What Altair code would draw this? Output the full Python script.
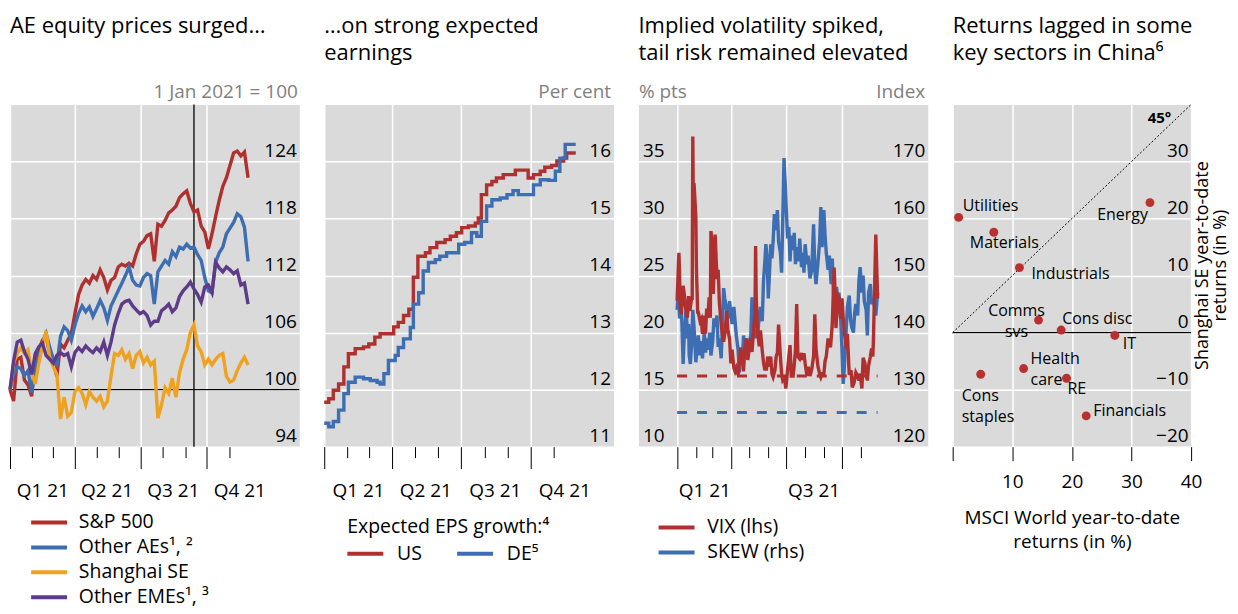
import altair as alt
import pandas as pd

FONT = "Open Sans"
RED = "#b0302f"
BLUE = "#3d6db2"
YELLOW = "#eea21f"
PURPLE = "#5d3b89"
BG = "#dadada"
SUB = "#7f7f7f"
LW = 3.4

START = pd.Timestamp("2021-01-01")


def dates(days):
    return [(START + pd.Timedelta(days=int(d))).strftime("%Y-%m-%d") for d in days]


def dt(y, m, d):
    return alt.DateTime(year=y, month=m, date=d, utc=True)


# ---------------- Panel 1: equity prices (1 Jan 2021 = 100), every 5 days
p1_series = ["S&P 500", "Other AEs¹, ²", "Shanghai SE", "Other EMEs¹, ³"]
p1_days = list(range(0, 331, 5))
sp500 = [100, 98.8, 103.2, 103.4, 101.0, 100.5, 99.3, 103.0, 104.2, 105.2,
         105.6, 103.8, 102.9, 101.4, 104.8, 104.4, 105.2, 105.9, 108.0, 110.0,
         111.0, 111.6, 111.2, 112.0, 111.6, 112.6, 111.8, 110.5, 111.5, 111.8,
         112.9, 113.2, 113.0, 113.3, 113.0, 114.3, 115.3, 115.6, 116.2, 116.4,
         113.5, 117.4, 117.2, 117.8, 118.6, 118.9, 119.3, 120.2, 120.6, 120.9,
         119.6, 118.7, 118.9, 117.2, 116.6, 114.8, 116.4, 118.2, 119.9, 121.4,
         122.3, 123.6, 124.9, 125.1, 124.6, 125.0, 122.3]
other_aes = [100, 101.6, 102.4, 102.2, 101.5, 102.0, 99.7, 102.3, 103.4, 105.0,
             105.9, 104.5, 103.2, 102.6, 105.6, 106.6, 106.2, 105.2, 106.8, 108.0,
             108.8, 108.2, 108.7, 107.7, 108.5, 109.4, 108.6, 107.3, 108.8, 109.6,
             110.4, 111.2, 112.0, 112.9, 111.5, 111.0, 110.9, 111.8, 112.2, 112.0,
             109.0, 112.4, 113.0, 113.6, 113.2, 114.5, 114.0, 115.0, 114.8, 115.3,
             114.9, 115.0, 114.2, 113.6, 111.8, 110.4, 110.2, 113.4, 114.4, 115.0,
             116.4, 117.0, 117.6, 118.5, 118.2, 117.1, 113.5]
shanghai = [100, 102.8, 103.8, 104.4, 103.8, 104.2, 101.8, 100.6, 102.8, 104.6,
            106.2, 103.4, 102.4, 101.6, 96.9, 99.2, 97.2, 97.6, 99.8, 100.2,
            99.6, 98.4, 99.8, 99.2, 98.8, 99.3, 98.2, 98.8, 101.4, 103.8,
            103.6, 104.2, 103.2, 103.8, 102.2, 103.6, 104.0, 102.8, 103.4, 102.6,
            103.0, 97.0, 98.4, 100.2, 99.6, 101.2, 99.2, 101.8, 103.2, 104.2,
            106.0, 106.8, 104.6, 104.0, 102.6, 103.2, 102.6, 103.2, 103.6, 103.8,
            101.4, 100.8, 101.0, 102.0, 102.8, 103.4, 102.6]
other_emes = [100, 103.0, 105.0, 105.2, 104.0, 103.2, 101.6, 103.8, 104.5, 104.9,
              103.6, 103.2, 102.8, 103.6, 103.9, 103.6, 103.8, 102.4, 103.9, 104.4,
              104.0, 104.6, 104.2, 103.9, 104.4, 104.0, 105.0, 103.6, 105.0, 106.8,
              108.0, 109.0, 109.3, 109.4, 108.8, 108.4, 108.0, 108.2, 107.8, 106.8,
              107.2, 107.2, 108.3, 108.6, 109.0, 108.2, 108.6, 109.8, 110.4, 110.8,
              111.3, 110.6, 110.0, 109.2, 110.8, 111.0, 110.2, 113.4, 112.8, 112.4,
              112.9, 112.6, 112.2, 112.5, 111.0, 111.2, 109.0]
p1_marker = ["2021-09-13"]
p1_base = [100]
p1_ticks = [94, 100, 106, 112, 118, 124]

# ---------------- Panel 2: expected EPS growth (per cent), step series
us_days = [0, 6, 12, 19, 26, 32, 41, 52, 59, 67, 74, 92, 98, 105, 112, 118, 124, 134,
           140, 149, 160, 167, 175, 182, 191, 200, 204, 208, 215, 222, 228, 237, 253,
           270, 277, 286, 292, 301, 308, 317, 321, 333]
us_vals = [11.78, 11.84, 11.99, 12.10, 12.40, 12.63, 12.72, 12.75, 12.80, 12.92,
           12.98, 13.10, 13.18, 13.30, 13.41, 13.97, 14.34, 14.40, 14.49, 14.58,
           14.63, 14.69, 14.75, 14.84, 14.87, 14.92, 15.01, 15.42, 15.59, 15.65,
           15.71, 15.77, 15.85, 15.71, 15.77, 15.83, 15.90, 15.93, 16.01, 16.06,
           16.15, 16.15]
de_days = [0, 6, 12, 19, 26, 32, 41, 52, 61, 70, 74, 79, 85, 94, 98, 105, 114, 118,
           125, 131, 138, 147, 153, 162, 178, 186, 195, 202, 208, 215, 222, 233, 242,
           250, 257, 277, 286, 297, 306, 312, 319, 333]
de_vals = [11.41, 11.35, 11.44, 11.64, 11.93, 12.13, 12.22, 12.19, 12.16, 12.13,
           12.10, 12.28, 12.51, 12.60, 12.74, 12.89, 13.09, 13.50, 13.70, 14.08,
           14.23, 14.28, 14.34, 14.40, 14.55, 14.58, 14.75, 14.69, 14.95, 15.22,
           15.33, 15.36, 15.42, 15.49, 15.42, 15.59, 15.68, 15.67, 15.83, 16.06,
           16.30, 16.30]
p2_series = ["US", "DE⁵"]
p2_ticks = [11, 12, 13, 14, 15, 16]

# ---------------- Panel 3: VIX (lhs) and SKEW (rhs)
vix_days = [0, 3, 4, 5, 7, 10, 12, 14, 17, 19, 21, 24, 25, 26, 27, 28, 31, 32, 34, 35,
            38, 40, 42, 45, 47, 49, 51, 53, 55, 56, 58, 60, 62, 63, 66, 68, 70, 73, 75, 77,
            80, 82, 84, 87, 89, 91, 94, 96, 98, 101, 103, 105, 108, 110, 112, 115, 117, 119,
            122, 124, 126, 129, 130, 131, 133, 136, 138, 141, 143, 145, 148, 150, 152, 155,
            157, 159, 162, 164, 166, 168, 171, 173, 175, 178, 180, 182, 185, 187, 189, 192,
            194, 196, 198, 200, 203, 206, 208, 210, 212, 215, 217, 220, 223, 226, 228, 230,
            233, 236, 238, 240, 243, 245, 247, 250, 254, 257, 260, 261, 263, 266, 268, 271,
            273, 275, 277, 280, 282, 285, 288, 290, 293, 296, 298, 301, 303, 306, 308, 311,
            313, 315, 317, 320, 322, 324, 325, 329, 332]
vix_vals = [22.8, 27.0, 25.3, 22.4, 21.6, 24.1, 23.3, 22.2, 21.3, 23.2, 21.9, 23.0, 23.0,
            37.2, 30.2, 33.1, 30.2, 25.6, 21.8, 21.8, 21.0, 21.2, 19.9, 21.5, 19.9, 22.1,
            21.3, 23.1, 21.3, 28.9, 27.9, 23.4, 26.7, 28.6, 24.7, 25.5, 22.6, 20.7, 19.8,
            19.2, 20.3, 21.9, 20.3, 19.4, 17.3, 18.5, 16.9, 16.6, 16.9, 16.3, 17.3, 18.7,
            17.6, 16.6, 18.6, 19.5, 17.6, 18.4, 19.5, 18.3, 19.7, 21.8, 27.6, 23.1, 20.2,
            18.8, 20.2, 18.4, 17.4, 16.8, 16.8, 17.9, 17.0, 17.9, 16.4, 16.1, 16.7, 17.9,
            18.2, 20.7, 17.9, 16.4, 15.8, 16.0, 15.1, 16.2, 17.9, 18.9, 16.2, 16.2, 17.2,
            18.5, 22.5, 17.9, 17.7, 18.2, 17.6, 18.2, 17.3, 16.2, 17.0, 16.2, 16.8, 17.9,
            21.6, 18.6, 17.1, 16.4, 16.1, 16.4, 16.4, 17.5, 17.9, 19.5, 18.7, 20.8, 25.7,
            24.4, 20.4, 23.3, 23.1, 21.2, 23.0, 21.3, 20.0, 18.6, 19.9, 16.3, 16.7, 15.2,
            15.6, 16.5, 16.3, 15.8, 16.4, 15.1, 17.8, 17.3, 16.3, 15.8, 17.1, 17.9, 18.6,
            17.9, 19.2, 28.6, 23.0]
skew_days = [0, 2, 4, 7, 8, 10, 12, 14, 15, 17, 19, 20, 22, 24, 26, 28, 31, 33, 35, 38,
             40, 42, 45, 47, 49, 52, 54, 56, 59, 61, 63, 66, 68, 70, 73, 75, 77, 79, 82, 84,
             87, 89, 91, 94, 96, 98, 101, 103, 105, 108, 110, 112, 115, 117, 119, 122, 124,
             126, 129, 131, 133, 136, 138, 141, 143, 145, 147, 149, 151, 153, 155, 157, 159,
             161, 164, 166, 168, 171, 173, 175, 177, 179, 181, 183, 185, 187, 189, 192, 194,
             196, 198, 201, 203, 206, 208, 210, 212, 215, 217, 220, 223, 226, 228, 230, 233,
             236, 238, 240, 243, 245, 247, 250, 252, 255, 257, 259, 261, 264, 266, 268, 271,
             273, 275, 277, 280, 282, 285, 287, 289, 292, 294, 296, 299, 301, 303, 306, 308,
             310, 313, 315, 317, 320, 322, 325, 327, 329, 332]
skew_vals = [144.0, 147.5, 142.5, 144.0, 141.5, 134.5, 140.0, 142.5, 145.0, 139.0,
             141.5, 136.0, 134.5, 138.0, 144.0, 141.0, 134.8, 137.0, 139.5, 136.0,
             138.5, 135.5, 140.0, 136.5, 139.0, 137.0, 140.0, 136.0, 138.5, 142.5,
             141.0, 143.0, 137.5, 139.0, 135.5, 141.0, 147.8, 146.0, 144.0, 142.5,
             145.5, 143.0, 141.5, 144.5, 142.0, 139.5, 137.0, 133.0, 136.5, 135.0,
             139.5, 137.0, 138.5, 136.0, 138.0, 139.5, 146.2, 141.0, 139.0, 140.5,
             139.0, 143.0, 144.5, 142.0, 149.0, 152.0, 155.5, 153.0, 146.0, 150.5,
             155.5, 153.0, 156.0, 160.8, 158.0, 161.5, 156.0, 154.0, 150.5, 160.0,
             170.6, 166.0, 161.0, 156.5, 158.5, 152.5, 157.0, 154.5, 157.5, 152.0,
             155.0, 152.5, 156.5, 151.5, 154.0, 150.5, 155.5, 152.0, 153.5, 149.5,
             151.0, 159.0, 151.0, 148.5, 152.0, 156.0, 162.0, 155.0, 161.5, 157.0,
             154.0, 151.0, 153.5, 148.5, 153.0, 147.0, 146.5, 148.0, 145.5, 147.0,
             142.0, 137.0, 131.0, 134.0, 140.5, 144.5, 146.5, 142.5, 141.0, 140.0,
             143.5, 145.0, 143.0, 149.0, 151.5, 147.0, 150.0, 145.5, 144.0, 139.5,
             147.0, 148.5, 145.0, 146.0, 144.5, 143.0, 147.0]
p3_series = ["VIX (lhs)", "SKEW (rhs)"]
avg_span = ["2021-01-01", "2021-11-29"]
vix_avg = [16.2]
skew_avg = [126.0]
vix_ticks = [10, 15, 20, 25, 30, 35]
skew_ticks = [120, 130, 140, 150, 160, 170]

# ---------------- Panel 4: sector returns
sectors = ["Utilities", "Materials", "Industrials", "Comms svs", "Cons disc", "IT",
           "Energy", "Health care", "Cons staples", "RE", "Financials"]
sector_text = ["Utilities", "Materials", "Industrials", "Comms\nsvs", "Cons disc", "IT",
               "Energy", "Health\ncare", "Cons\nstaples", "RE", "Financials"]
msci_ret = [1.0, 6.9, 11.2, 14.4, 18.2, 27.2, 33.1, 11.9, 4.7, 19.1, 22.4]
sse_ret = [20.2, 17.6, 11.4, 2.2, 0.45, -0.5, 22.8, -6.3, -7.3, -8.0, -14.6]
diag = [0, 40]
x4_ticks = [0, 10, 20, 30, 40]
y4_ticks = [-20, -10, 0, 10, 20, 30]

# label placement styles (dx, dy, align)
label_style = {
    "Utilities": (4, -11, "left"),
    "Materials": (-24, 11, "left"),
    "Industrials": (12, 6, "left"),
    "Comms svs": (-22, -9, "center"),
    "Cons disc": (1, -11, "left"),
    "IT": (8, 9, "left"),
    "Energy": (-2, 12, "right"),
    "Health care": (7, -9.5, "left"),
    "Cons staples": (-19, 22, "left"),
    "RE": (1, 11, "left"),
    "Financials": (7, -5, "left"),
}

# ---------------- helpers
QTEST = "utcmonth(datum.value) % 3 == 0"
LAB4 = ("utcmonth(datum.value) == 1 ? 'Q1 21' : utcmonth(datum.value) == 4 ? 'Q2 21' : "
        "utcmonth(datum.value) == 7 ? 'Q3 21' : utcmonth(datum.value) == 10 ? 'Q4 21' : ''")
LAB2 = "utcmonth(datum.value) == 1 ? 'Q1 21' : utcmonth(datum.value) == 7 ? 'Q3 21' : ''"
LINE_SYMBOL = "M-1.2,0H2.8"


def time_axis(label_expr, offset):
    return alt.Axis(
        values=[dt(2021, m, 1) for m in range(1, 12)],
        title=None, domain=False, grid=True, gridColor="white", gridWidth=1.5,
        gridOpacity={"condition": {"test": QTEST, "value": 1}, "value": 0},
        ticks=True, tickColor="black", tickWidth=1,
        tickSize={"condition": {"test": QTEST, "value": 22}, "value": 11},
        labelExpr=label_expr, labelOffset=offset, labelPadding=23.5, labelAngle=0,
        labelFontSize=19, labelColor="black", labelFlush=False, labelOverlap=False)


def val_axis(values, orient, title, title_align, title_x, grid=True):
    right = orient == "right"
    return alt.Axis(
        orient=orient, values=values, title=title, titleAngle=0,
        titleAlign=title_align, titleX=title_x, titleY=-7, titleBaseline="alphabetic",
        titleColor=SUB, titleFontSize=19, titleFontWeight="normal",
        domain=False, ticks=False, tickSize=0, grid=grid, gridColor="white", gridWidth=1.5,
        labelAlign="right" if right else "left", labelPadding=-3 if right else -4,
        labelBaseline="alphabetic", labelOffset=-5, labelFontSize=19, labelColor="black",
        labelFlush=False, labelOverlap=False)


def line_legend(x, y, row_pad, label_off, direction="vertical", title=None, columns=None):
    kw = dict(orient="none", legendX=x, legendY=y, direction=direction,
              symbolType=LINE_SYMBOL, symbolSize=324, symbolStrokeWidth=4,
              symbolFillColor="transparent",
              labelFontSize=19.5, labelColor="black", labelOffset=label_off, labelLimit=400,
              rowPadding=row_pad, padding=0)
    if title is None:
        kw["title"] = None
    else:
        kw.update(title=title, titleFontWeight="normal", titleFontSize=19.5,
                  titleColor="black", titlePadding=4.5, titleLimit=400)
    if columns:
        kw.update(columns=columns, columnPadding=27)
    return alt.Legend(**kw)


def panel_title(lines, offset):
    return alt.TitleParams(text=lines, anchor="start", frame="group", offset=offset,
                           fontSize=22, fontWeight="normal", lineHeight=27,
                           color="black", font=FONT)


W, H = 290, 343
T_OFF = 18

# ---------------- Panel 1
df1 = pd.DataFrame({
    "date": dates(p1_days) * 4,
    "value": sp500 + other_aes + shanghai + other_emes,
    "series": sum([[s] * len(p1_days) for s in p1_series], []),
})
x1s = alt.Scale(type="utc", domain=[dt(2021, 1, 1), dt(2022, 2, 6)])
y1s = alt.Scale(domain=[94, 130])
x1a = time_axis(LAB4, 10)
y1a = val_axis(p1_ticks, "right", "1 Jan 2021 = 100", "right", -2)

base1 = alt.Chart(pd.DataFrame({"value": p1_base})).mark_rule(
    color="black", strokeWidth=1.3).encode(y=alt.Y("value:Q", scale=y1s, axis=y1a))
mark1 = alt.Chart(pd.DataFrame({"date": p1_marker})).mark_rule(
    color="black", strokeWidth=1.3).encode(x=alt.X("date:T", scale=x1s, axis=x1a))
lines1 = alt.Chart(df1).mark_line(strokeWidth=LW).encode(
    x=alt.X("date:T", scale=x1s, axis=x1a),
    y=alt.Y("value:Q", scale=y1s, axis=y1a),
    color=alt.Color("series:N", scale=alt.Scale(domain=p1_series,
                                                range=[RED, BLUE, YELLOW, PURPLE]),
                    legend=line_legend(21, 408, 4, 26)),
)
p1 = alt.layer(base1, mark1, lines1).properties(
    width=W, height=H, title=panel_title(["AE equity prices surged…", " "], T_OFF))

# ---------------- Panel 2
df2 = pd.DataFrame({
    "date": dates(us_days) + dates(de_days),
    "value": us_vals + de_vals,
    "series": [p2_series[0]] * len(us_days) + [p2_series[1]] * len(de_days),
})
x2s = alt.Scale(type="utc", domain=[dt(2021, 1, 1), dt(2022, 1, 19)])
y2s = alt.Scale(domain=[11, 17])
p2 = alt.Chart(df2).mark_line(strokeWidth=LW, interpolate="step-after").encode(
    x=alt.X("date:T", scale=x2s, axis=time_axis(LAB4, 10.5)),
    y=alt.Y("value:Q", scale=y2s, axis=val_axis(p2_ticks, "right", "Per cent", "right", -3)),
    color=alt.Color("series:N", scale=alt.Scale(domain=p2_series, range=[RED, BLUE]),
                    legend=line_legend(23, 415, 3, 28, "horizontal",
                                       "Expected EPS growth:⁴", 2)),
).properties(width=W, height=H,
             title=panel_title(["…on strong expected", "earnings"], T_OFF))

# ---------------- Panel 3
x3s = alt.Scale(type="utc", domain=[dt(2020, 10, 29), dt(2022, 2, 20)])
x3a = time_axis(LAB2, 8.5)
yvs = alt.Scale(domain=[10, 40])
yva = val_axis(vix_ticks, "left", "% pts", "left", 0)
yss = alt.Scale(domain=[120, 180])
ysa = val_axis(skew_ticks, "right", "Index", "right", -3, grid=False)
c3 = alt.Scale(domain=p3_series, range=[RED, BLUE])
leg3 = line_legend(20, 413, 4, 27)

vix_df = pd.DataFrame({"date": dates(vix_days), "value": vix_vals, "series": p3_series[0]})
skew_df = pd.DataFrame({"date": dates(skew_days), "value": skew_vals, "series": p3_series[1]})
vix_avg_df = pd.DataFrame({"start": [avg_span[0]], "end": [avg_span[1]], "value": vix_avg})
skew_avg_df = pd.DataFrame({"start": [avg_span[0]], "end": [avg_span[1]], "value": skew_avg})

vix_dash = alt.Chart(vix_avg_df).mark_rule(color=RED, strokeWidth=3, strokeDash=[10, 10]).encode(
    x=alt.X("start:T", scale=x3s, axis=x3a), x2="end:T",
    y=alt.Y("value:Q", scale=yvs, axis=yva))
vix_line = alt.Chart(vix_df).mark_line(strokeWidth=LW).encode(
    x=alt.X("date:T", scale=x3s, axis=x3a),
    y=alt.Y("value:Q", scale=yvs, axis=yva),
    color=alt.Color("series:N", scale=c3, legend=leg3))
skew_dash = alt.Chart(skew_avg_df).mark_rule(color=BLUE, strokeWidth=3, strokeDash=[10, 10]).encode(
    x=alt.X("start:T", scale=x3s, axis=x3a), x2="end:T",
    y=alt.Y("value:Q", scale=yss, axis=ysa))
skew_line = alt.Chart(skew_df).mark_line(strokeWidth=LW).encode(
    x=alt.X("date:T", scale=x3s, axis=x3a),
    y=alt.Y("value:Q", scale=yss, axis=ysa),
    color=alt.Color("series:N", scale=c3, legend=leg3))

p3 = alt.layer(alt.layer(skew_dash, skew_line), alt.layer(vix_dash, vix_line)).resolve_scale(
    y="independent").properties(
    width=W, height=H,
    title=panel_title(["Implied volatility spiked,", "tail risk remained elevated"], T_OFF))

# ---------------- Panel 4
W4 = 239
df4 = pd.DataFrame({"sector": sectors, "label": sector_text, "msci": msci_ret, "sse": sse_ret})
x4s = alt.Scale(domain=[0, 40])
y4s = alt.Scale(domain=[-20, 40])
x4a = alt.Axis(values=x4_ticks, domain=False, grid=True, gridColor="white", gridWidth=1.5,
               ticks=True, tickSize=14, tickColor="black", tickWidth=1,
               labelExpr="datum.value == 0 ? '' : datum.label", labelPadding=12,
               labelFontSize=19, labelColor="black", labelFlush=False,
               title=["MSCI World year-to-date", "returns (in %)"], titleFontSize=19,
               titleFontWeight="normal", titleColor="black", titleLineHeight=24,
               titleBaseline="top", titleY=62)
y4a = alt.Axis(orient="right", values=y4_ticks, domain=False, ticks=False, tickSize=0,
               grid=True, gridColor="white", gridWidth=1.5,
               labelAlign="right", labelPadding=-3, labelBaseline="alphabetic",
               labelOffset=-5, labelFontSize=19, labelColor="black", labelFlush=False,
               title=["Shanghai SE year-to-date", "returns (in %)"], titleAngle=270,
               titleAlign="center", titleBaseline="top", titleX=2, titleY=161,
               titleFontSize=18, titleFontWeight="normal", titleColor="black",
               titleLineHeight=18)

X4 = alt.X("msci:Q", scale=x4s, axis=x4a)
Y4 = alt.Y("sse:Q", scale=y4s, axis=y4a)

zero4 = alt.Chart(pd.DataFrame({"sse": [0]})).mark_rule(color="black", strokeWidth=1.3).encode(y=Y4)
diag4 = alt.Chart(pd.DataFrame({"msci": diag, "sse": diag})).mark_line(
    color="black", strokeWidth=1, strokeDash=[2, 2]).encode(x=X4, y=Y4)
deg4 = alt.Chart(pd.DataFrame({"msci": [40], "sse": [40], "t": ["45°"]})).mark_text(
    align="right", baseline="middle", dx=-20, dy=14, fontSize=15, fontWeight="bold",
    color="black").encode(x=X4, y=Y4, text="t:N")
pts4 = alt.Chart(df4).mark_circle(size=80, color="#b8312f", opacity=1).encode(x=X4, y=Y4)
labels4 = []
for s in sectors:
    dx, dy, al = label_style[s]
    labels4.append(
        alt.Chart(df4).transform_filter(alt.FieldEqualPredicate(field="sector", equal=s))
        .mark_text(dx=dx, dy=dy, align=al, baseline="middle", lineBreak="\n",
                   lineHeight=21, fontSize=16, color="black")
        .encode(x=X4, y=Y4, text="label:N"))

p4 = alt.layer(zero4, diag4, pts4, deg4, *labels4).properties(
    width=W4, height=H,
    title=panel_title(["Returns lagged in some", "key sectors in China⁶"], T_OFF + 20))

chart = alt.hconcat(p1, p2, p3, p4, spacing=25, bounds="flush").resolve_scale(
    color="independent", x="independent", y="independent").properties(
    padding={"left": -6, "top": 5, "right": 0, "bottom": 0}
).configure(font=FONT).configure_view(fill=BG, stroke="transparent")

chart.save("out.html", embed_options={"renderer": "svg", "actions": False})
